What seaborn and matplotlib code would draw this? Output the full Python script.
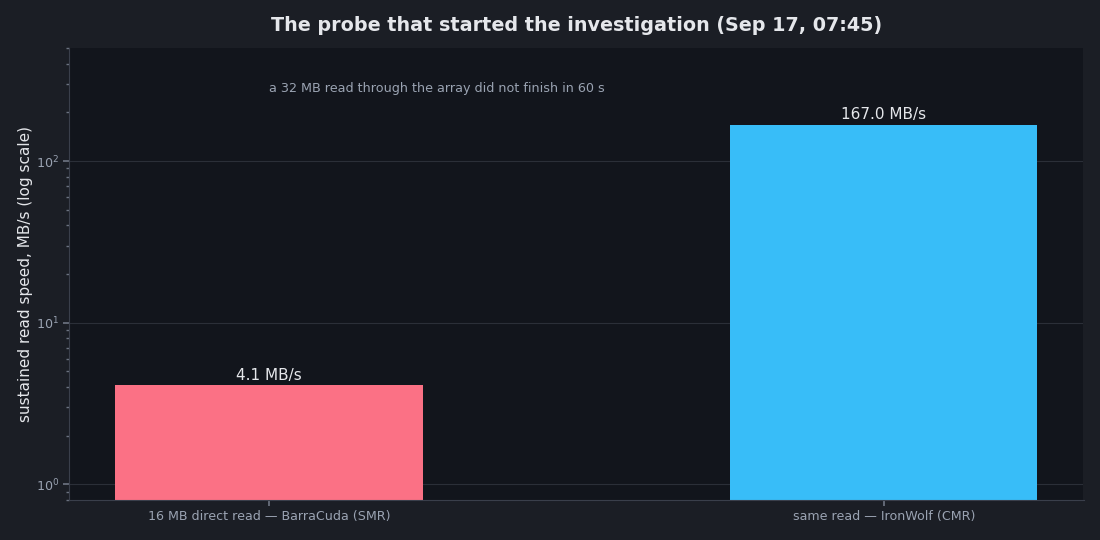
import numpy as np
import pandas as pd
import matplotlib
matplotlib.use("Agg")
import matplotlib.pyplot as plt
import seaborn as sns

# probe results
probes = ["16 MB direct read — BarraCuda (SMR)", "same read — IronWolf (CMR)"]
speeds = [4.1, 167.0]
bar_colors = ["#fb7185", "#38bdf8"]

df = pd.DataFrame({"probe": probes, "speed": speeds})

fig_bg = "#1b1e25"
ax_bg = "#12151c"
grid_c = "#2b2f38"
tick_c = "#9aa3b2"
text_c = "#e5e7eb"

sns.set_theme(style="dark")
plt.rcParams["font.family"] = ["DejaVu Sans"]

fig, ax = plt.subplots(figsize=(11, 5.4), dpi=100)
fig.patch.set_facecolor(fig_bg)
ax.set_facecolor(ax_bg)

sns.barplot(data=df, x="probe", y="speed", hue="probe", palette=bar_colors,
            width=0.5, legend=False, ax=ax, saturation=1, linewidth=0)
ax.set_yscale("log")
ax.set_ylim(0.8, 500)
ax.set_xlim(-0.325, 1.325)

for i, v in enumerate(speeds):
    ax.text(i, v * 1.04, f"{v:.1f} MB/s", ha="center", va="bottom",
            color=text_c, fontsize=11)

ax.text(0, 280, "a 32 MB read through the array did not finish in 60 s",
        ha="left", va="center", color=tick_c, fontsize=9.2)

ax.set_title("The probe that started the investigation (Sep 17, 07:45)",
             color=text_c, fontsize=13.8, fontweight="bold", pad=12)
ax.set_xlabel("")
ax.set_ylabel("sustained read speed, MB/s (log scale)", color=text_c,
              fontsize=11, labelpad=2)

ax.grid(axis="y", which="major", color=grid_c, linewidth=0.8)
ax.grid(axis="x", visible=False)
ax.set_axisbelow(True)

ax.tick_params(axis="both", which="both", colors="#6b7280", labelcolor=tick_c,
               labelsize=9.1)
ax.tick_params(axis="y", which="major", length=4, left=True)
ax.tick_params(axis="y", which="minor", length=2, left=True)
ax.tick_params(axis="x", length=4, bottom=True)

for s in ["top", "right"]:
    ax.spines[s].set_visible(False)
for s in ["left", "bottom"]:
    ax.spines[s].set_visible(True)
    ax.spines[s].set_color("#3a3f4b")
    ax.spines[s].set_linewidth(0.8)

fig.subplots_adjust(left=0.063, right=0.985, top=0.911, bottom=0.074)
fig.savefig("out.png", dpi=100, facecolor=fig_bg)
